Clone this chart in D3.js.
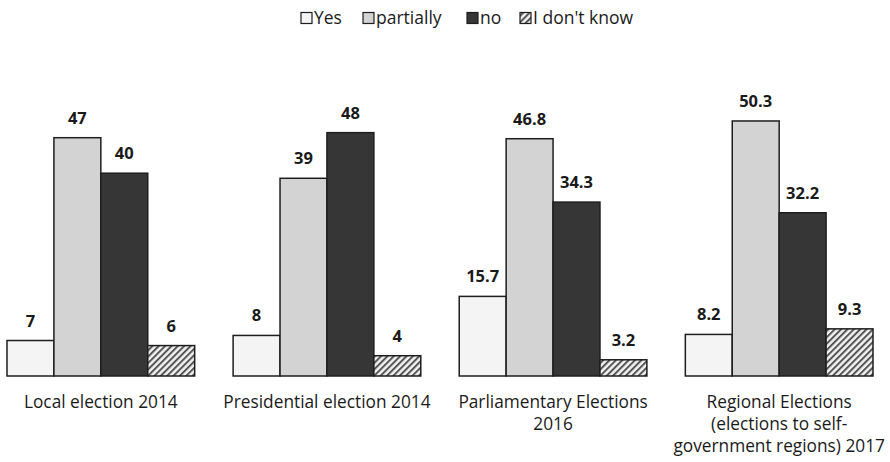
<!DOCTYPE html>
<html>
<head>
<meta charset="utf-8">
<script src="https://cdn.jsdelivr.net/npm/d3@7"></script>
<style>
  html, body { margin: 0; padding: 0; background: #fff; }
  svg { display: block; font-family: "Open Sans", Lato, sans-serif; }
</style>
</head>
<body>
<svg id="chart" width="890" height="462"></svg>
<script>
// Survey answers per election, in percent
const categories = [
  ["Local election 2014"],
  ["Presidential election 2014"],
  ["Parliamentary Elections", "2016"],
  ["Regional Elections", "(elections to self-", "government regions) 2017"]
];
const seriesNames = ["Yes", "partially", "no", "I don't know"];
const yesValues = [7, 8, 15.7, 8.2];
const partiallyValues = [47, 39, 46.8, 50.3];
const noValues = [40, 48, 34.3, 32.2];
const dontKnowValues = [6, 4, 3.2, 9.3];
const valueLabels = [
  ["7", "8", "15.7", "8.2"],
  ["47", "39", "46.8", "50.3"],
  ["40", "48", "34.3", "32.2"],
  ["6", "4", "3.2", "9.3"]
];

const series = [yesValues, partiallyValues, noValues, dontKnowValues];
const fills = ["#f4f4f4", "#d3d3d3", "#363636", "url(#hatch)"];

const svg = d3.select("#chart");
const baseY = 376;

// hatch pattern for "I don't know"
const defs = svg.append("defs");
const pat = defs.append("pattern")
  .attr("id", "hatch").attr("patternUnits", "userSpaceOnUse")
  .attr("width", 4.5).attr("height", 4.5)
  .attr("patternTransform", "rotate(45)");
pat.append("rect").attr("width", 4.5).attr("height", 4.5).attr("fill", "#f2f2f2");
pat.append("rect").attr("width", 2).attr("height", 4.5).attr("fill", "#555");

const x0 = d3.scaleBand().domain(d3.range(categories.length))
  .range([7, 873]).paddingInner(0.17).paddingOuter(0);
const x1 = d3.scaleBand().domain(d3.range(series.length))
  .range([0, x0.bandwidth()]).padding(0);
const y = d3.scaleLinear().domain([0, 50]).range([baseY, baseY - 253.5]);

const groups = svg.append("g").selectAll("g")
  .data(categories).join("g")
  .attr("transform", (d, i) => `translate(${x0(i)},0)`);

groups.each(function (cat, ci) {
  const g = d3.select(this);
  series.forEach((vals, si) => {
    const v = vals[ci];
    g.append("rect")
      .attr("x", x1(si))
      .attr("y", y(v))
      .attr("width", x1.bandwidth())
      .attr("height", y(0) - y(v))
      .attr("fill", fills[si])
      .attr("stroke", "#1e1e1e")
      .attr("stroke-width", 1.5);
    g.append("text")
      .attr("x", x1(si) + x1.bandwidth() / 2)
      .attr("y", y(v) - 14)
      .attr("text-anchor", "middle")
      .attr("font-size", 16.5)
      .attr("font-weight", "bold")
      .attr("fill", "#1a1a1a")
      .text(valueLabels[si][ci]);
  });
  const t = g.append("text")
    .attr("text-anchor", "middle")
    .attr("font-size", 17.3)
    .attr("fill", "#1a1a1a");
  cat.forEach((line, li) => {
    t.append("tspan")
      .attr("x", x0.bandwidth() / 2)
      .attr("y", 408 + li * 22)
      .text(line);
  });
});

// legend
const legendX = [301, 363, 467, 520];
const legend = svg.append("g");
seriesNames.forEach((name, i) => {
  legend.append("rect")
    .attr("x", legendX[i]).attr("y", 12.5)
    .attr("width", 11).attr("height", 11)
    .attr("fill", fills[i])
    .attr("stroke", "#1e1e1e").attr("stroke-width", 1.2);
  legend.append("text")
    .attr("x", legendX[i] + 13).attr("y", 24)
    .attr("font-size", 17.5)
    .attr("fill", "#1a1a1a")
    .text(name);
});
</script>
</body>
</html>
